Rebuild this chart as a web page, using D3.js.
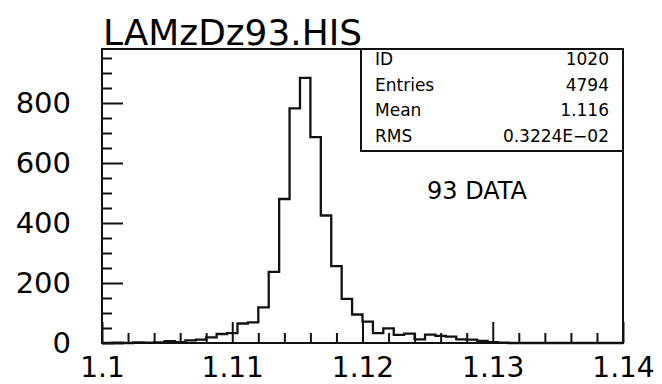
<!DOCTYPE html>
<html>
<head>
<meta charset="utf-8">
<script src="https://cdn.jsdelivr.net/npm/d3@7/dist/d3.min.js"></script>
<style>
  html, body { margin: 0; padding: 0; background: #fff; }
  svg { display: block; }
  text { font-family: "DejaVu Sans", sans-serif; fill: #000; }
</style>
</head>
<body>
<svg id="chart" width="662" height="384"></svg>
<script>
// Histogram LAMzDz93.HIS: 50 bins from 1.10 to 1.14
const histTitle = "LAMzDz93.HIS";
const binLow = 1.10;
const binWidth = 0.0008;
const binCounts = [
  0, 1, 0, 2, 1, 2, 6, 3, 9, 11,
  19, 30, 33, 65, 69, 119, 237, 480, 782, 884,
  686, 425, 256, 147, 95, 71, 33, 49, 27, 31,
  12, 28, 24, 21, 12, 11, 7, 3, 1, 0,
  0, 0, 0, 0, 0, 0, 0, 0, 0, 0
];
const xMajorTicks = [1.10, 1.11, 1.12, 1.13, 1.14];
const xTickLabels = ["1.1", "1.11", "1.12", "1.13", "1.14"];
const xMinorStep = 0.002;
const yMajorTicks = [0, 200, 400, 600, 800];
const yMinorStep = 50;
const yMax = 980;
const statNames = ["ID", "Entries", "Mean", "RMS"];
const statValues = ["1020", "4794", "1.116", "0.3224E-02"];
const annotation = "93 DATA";

const svg = d3.select("#chart");
const ink = "#111";

const plotLeft = 102, plotRight = 623, plotTop = 49, plotBottom = 343;

const x = d3.scaleLinear().domain([1.10, 1.14]).range([plotLeft, plotRight]);
const y = d3.scaleLinear().domain([0, yMax]).range([plotBottom, plotTop]);

// minor ticks (inward)
const xMinor = d3.range(1.10, 1.14 + 1e-9, xMinorStep).filter(v => !xMajorTicks.some(m => Math.abs(m - v) < 1e-9));
const yMinor = d3.range(0, yMax, yMinorStep).filter(v => v % 200 !== 0);

const axisStyle = size => g => {
  g.select(".domain").remove();
  g.selectAll("line").attr("stroke", ink).attr("stroke-width", 2);
  g.selectAll("text")
    .style("font-family", "'DejaVu Sans', sans-serif")
    .style("font-size", size + "px")
    .attr("fill", "#000");
};

svg.append("g")
  .attr("transform", `translate(0,${plotBottom})`)
  .call(d3.axisBottom(x).tickValues(xMinor).tickSize(-10).tickFormat(""))
  .call(axisStyle(28));

svg.append("g")
  .attr("transform", `translate(0,${plotBottom})`)
  .call(d3.axisBottom(x).tickValues(xMajorTicks).tickSize(-21).tickPadding(14)
    .tickFormat((d, i) => xTickLabels[i]))
  .call(axisStyle(28));

svg.append("g")
  .attr("transform", `translate(${plotLeft},0)`)
  .call(d3.axisLeft(y).tickValues(yMinor).tickSize(-10).tickFormat(""))
  .call(axisStyle(29));

svg.append("g")
  .attr("transform", `translate(${plotLeft},0)`)
  .call(d3.axisLeft(y).tickValues(yMajorTicks).tickSize(-21).tickPadding(31)
    .tickFormat(d3.format("d")))
  .call(axisStyle(29));

// histogram outline
const pts = [];
binCounts.forEach((c, i) => {
  const x0 = binLow + i * binWidth, x1 = binLow + (i + 1) * binWidth;
  pts.push([x0, c], [x1, c]);
});
pts.unshift([binLow, 0]);
pts.push([binLow + binCounts.length * binWidth, 0]);

svg.append("path")
  .datum(pts)
  .attr("fill", "none")
  .attr("stroke", ink)
  .attr("stroke-width", 2.3)
  .attr("stroke-linejoin", "miter")
  .attr("d", d3.line().x(d => x(d[0])).y(d => y(d[1])));

// frame
svg.append("rect")
  .attr("x", plotLeft).attr("y", plotTop)
  .attr("width", plotRight - plotLeft).attr("height", plotBottom - plotTop)
  .attr("fill", "none").attr("stroke", ink).attr("stroke-width", 2);

// statistics box
const boxLeft = 361, boxBottom = 151;
svg.append("rect")
  .attr("x", boxLeft).attr("y", plotTop)
  .attr("width", plotRight - boxLeft).attr("height", boxBottom - plotTop)
  .attr("fill", "#fff").attr("stroke", ink).attr("stroke-width", 2);

const rowY = i => 65 + i * 25.6;
svg.selectAll("text.stat-name")
  .data(statNames).join("text")
  .attr("class", "stat-name")
  .attr("x", 375).attr("y", (d, i) => rowY(i))
  .style("font-size", "17px")
  .text(d => d);
svg.selectAll("text.stat-value")
  .data(statValues).join("text")
  .attr("class", "stat-value")
  .attr("x", 609).attr("y", (d, i) => rowY(i))
  .attr("text-anchor", "end")
  .style("font-size", "17px")
  .text(d => d.replace("-", "\u2212"));

// title
svg.append("text")
  .attr("x", 103).attr("y", 45)
  .style("font-size", "36px")
  .attr("textLength", 259).attr("lengthAdjust", "spacingAndGlyphs")
  .text(histTitle);

// annotation
svg.append("text")
  .attr("x", 427).attr("y", 199)
  .style("font-size", "24px")
  .text(annotation);
</script>
</body>
</html>
